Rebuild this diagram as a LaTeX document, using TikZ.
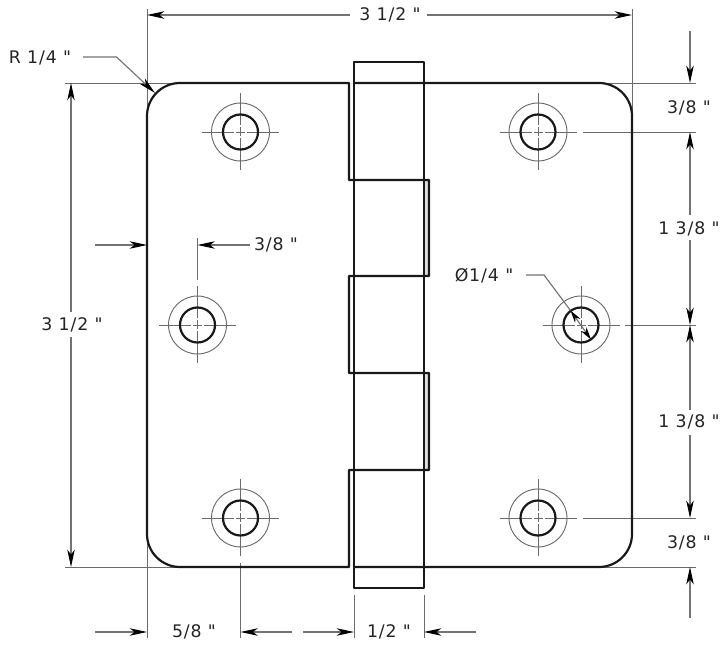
\documentclass[tikz,border=0pt]{standalone}
\usepackage{fontspec}
\newfontfamily\labfont[LetterSpace=5]{DejaVu Sans}
\usetikzlibrary{arrows.meta}
\tikzset{
  x=0.75pt,y=-0.75pt,
  heavy/.style={line width=1.65pt,black!90,line join=round},
  thin line/.style={line width=0.7pt,black!58},
  dim/.style={line width=0.85pt,black!55},
  bigtip/.tip={Stealth[length=13pt,width=5.6pt,inset=3.6pt,black]},
  smalltip/.tip={Stealth[length=9.5pt,width=5pt,inset=3pt,black]},
  tip/.style={-bigtip},
  tips/.style={smalltip-smalltip},
  lab/.style={font=\labfont\fontsize{13}{15}\selectfont,text=black!85,inner sep=0pt,anchor=center},
}
\newcommand{\hingehole}[3]{%
  \begin{scope}[shift={(#1,#2)}]
  \coordinate (#3) at (0,0);
  \draw[thin line] (0,0) circle[radius=29];
  \draw[thin line] (-38.5,0) -- (-6.5,0) (-4.5,0) -- (4.5,0) (6.5,0) -- (38.5,0);
  \draw[thin line] (0,-38.5) -- (0,-6.5) (0,-4.5) -- (0,4.5) (0,6.5) -- (0,38.5);
  \draw[heavy] (0,0) circle[radius=17.5];
  \end{scope}
}
\begin{document}
\begin{tikzpicture}
\useasboundingbox (0,0) rectangle (722,648);
\fill[white] (0,0) rectangle (722,648);
% extension lines
\draw[thin line] (147,9) -- (147,116);
\draw[thin line] (632,9) -- (632,116);
\draw[thin line] (65,83) -- (180,83);
\draw[thin line] (65,567) -- (180,567);
\draw[thin line] (599,83) -- (696,83);
\draw[thin line] (599,567) -- (696,567);
\draw[thin line] (583,132) -- (696,132);
\draw[thin line] (583,518) -- (696,518);
\draw[thin line] (625,325) -- (696,325);
\draw[thin line] (147,534) -- (147,638);
\draw[thin line] (240.5,563) -- (240.5,638);
\draw[thin line] (354,595) -- (354,638);
\draw[thin line] (424,595) -- (424,638);
\draw[thin line] (197.5,238) -- (197.5,280);
% gray bands on the right hand tabs
\fill[black!13] (424,180) rectangle (429,276);
\fill[black!13] (424,373) rectangle (429,470);
% plate
\draw[heavy] (349,83) -- (180,83) arc[start angle=270,end angle=180,radius=33] -- (147,534) arc[start angle=180,end angle=90,radius=33] -- (349,567) -- (349,470) -- (429,470) -- (429,373) -- (349,373) -- (349,276) -- (429,276) -- (429,180) -- (349,180) -- cycle;
\draw[heavy] (354,83) -- (599,83) arc[start angle=270,end angle=360,radius=33] -- (632,534) arc[start angle=0,end angle=90,radius=33] -- (354,567);
% knuckle
\draw[heavy] (354,62) rectangle (424,588);
% holes
\hingehole{240.5}{132}{h1}
\hingehole{538}{132}{h2}
\hingehole{197.5}{325}{h3}
\hingehole{581}{325}{h4}
\hingehole{240.5}{518}{h5}
\hingehole{538}{518}{h6}
% top dimension
\node[lab] (t1) at (390,15) {3 1/2 "};
\coordinate (e1) at (147,15); \coordinate (e2) at (632,15);
\draw[dim,tip] (350,15) -- (e1);
\draw[dim,tip] (427,15) -- (e2);
% left dimension
\node[lab] (t2) at (72,325) {3 1/2 "};
\coordinate (e3) at (71,83); \coordinate (e4) at (71,567);
\draw[dim,tip] (71,312) -- (e3);
\draw[dim,tip] (71,337) -- (e4);
% R 1/4
\node[lab] (t3) at (40,58) {R 1/4 "};
\coordinate (r0) at (83,57);
\coordinate (r1) at (116.5,57);
\coordinate (r2) at (155,93);
\draw[dim,tip] (r0) -- (r1) -- (r2);
% 3/8 inner
\node[lab] (t4) at (276,245) {3/8 "};
\coordinate (e5) at (197.5,245); \coordinate (e6) at (147,245);
\draw[dim,tip] (250,245) -- (e5);
\draw[dim,tip] (95,245) -- (e6);
% dia
\node[lab] (t5) at (484,276) {Ø1/4 "};
\coordinate (d0) at (526,275);
\coordinate (d1) at (544,275);
\coordinate (d2) at (570.5,310.5);
\coordinate (d3) at (591,339.5);
\draw[dim] (d0) -- (d1) -- (d2);
\draw[dim,tips] (d2) -- (d3);
% right dims
\node[lab] (t6) at (689,108) {3/8 "};
\node[lab] (t7) at (689,229) {1 3/8 "};
\node[lab] (t8) at (689,422) {1 3/8 "};
\node[lab] (t9) at (689,543) {3/8 "};
\draw[dim,tip] (690,31) -- (690,83);
\draw[dim,tip] (690,215) -- (690,132);
\draw[dim,tip] (690,240) -- (690,325);
\draw[dim,tip] (690,410) -- (690,325);
\draw[dim,tip] (690,435) -- (690,518);
\draw[dim,tip] (690,618) -- (690,567);
% bottom dims
\node[lab] (t10) at (194,632) {5/8 "};
\node[lab] (t11) at (389,632) {1/2 "};
\draw[dim,tip] (95,632) -- (147,632);
\draw[dim,tip] (292,632) -- (240.5,632);
\draw[dim,tip] (303,632) -- (354,632);
\draw[dim,tip] (476,632) -- (424,632);
\end{tikzpicture}
\end{document}
